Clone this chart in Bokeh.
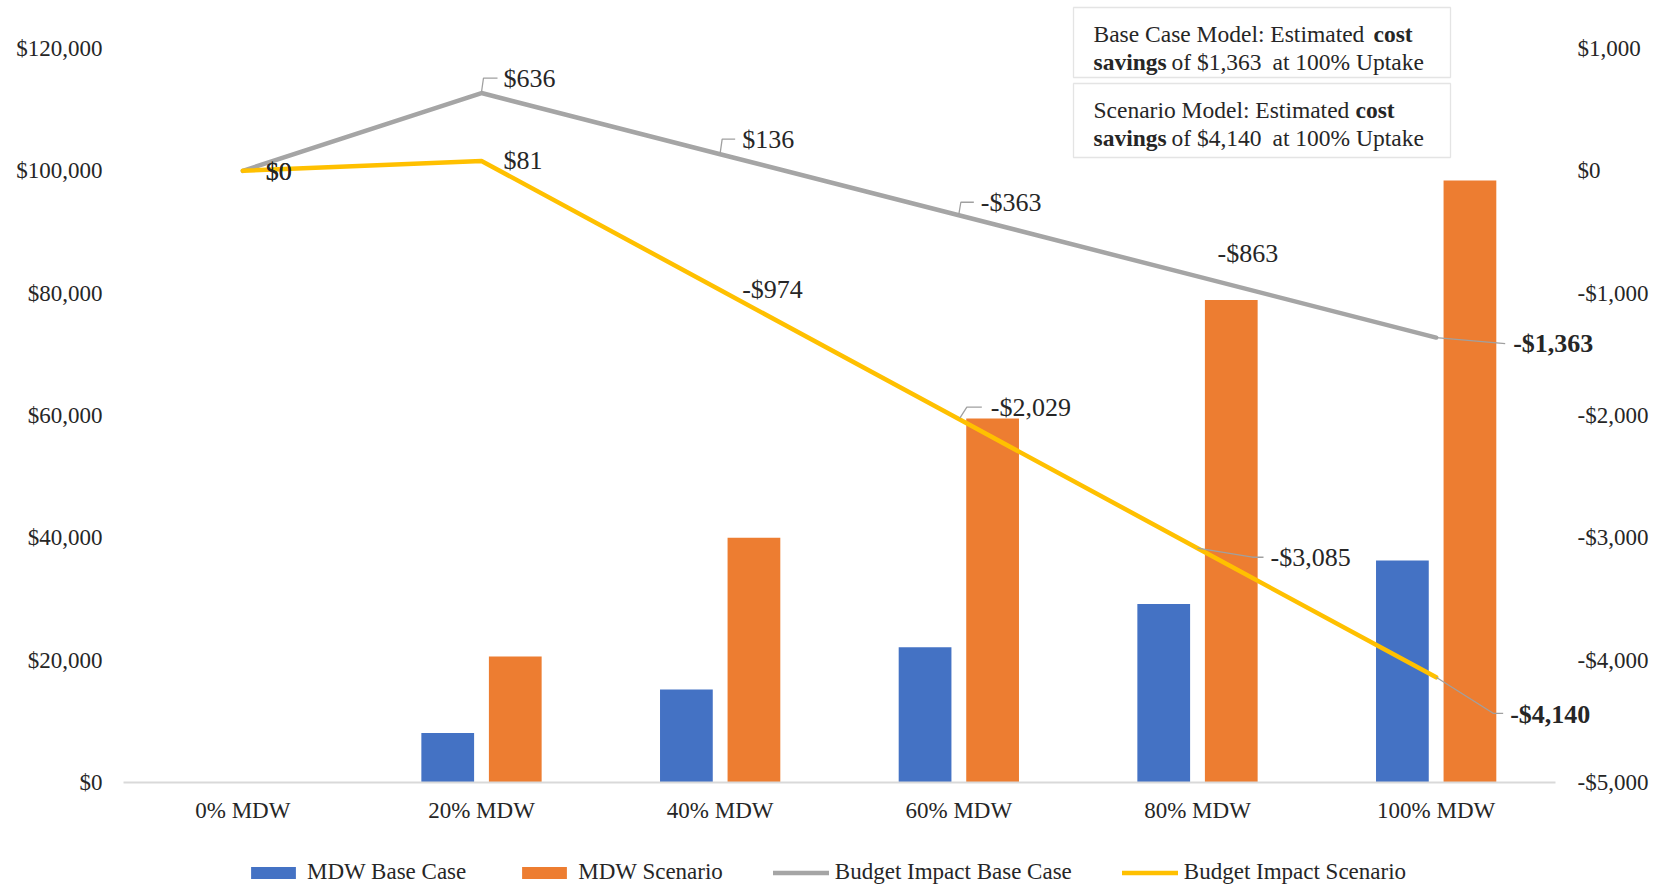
from bokeh.plotting import figure
from bokeh.models import (Range1d, LinearAxis, FixedTicker, ColumnDataSource, LabelSet,
                          Label, BoxAnnotation, Legend, LegendItem)
from bokeh.core.properties import value
from bokeh.embed import file_html
from bokeh.resources import INLINE

# ---- data -------------------------------------------------------------
categories = ["0% MDW", "20% MDW", "40% MDW", "60% MDW", "80% MDW", "100% MDW"]
mdw_base_case = [0, 8100, 15200, 22100, 29200, 36300]
mdw_scenario = [0, 20600, 40000, 59500, 78900, 98400]
budget_impact_base_case = [0, 636, 136, -363, -863, -1363]
budget_impact_scenario = [0, 81, -974, -2029, -3085, -4140]
left_ticks = [0, 20000, 40000, 60000, 80000, 100000, 120000]
right_ticks = [-5000, -4000, -3000, -2000, -1000, 0, 1000]

# ---- layout -----------------------------------------------------------
# The frame fills the whole canvas; the plotting area sits inside it and
# the axes are pinned to its edges with fixed_location, so that labels,
# callouts and the legend outside the plotting area are never clipped.
FONT = "Liberation Serif"
W, H = 1663, 887
PLOT_L, PLOT_R, PLOT_T, PLOT_B = 123, 1555, 48, 782
N = len(categories)
Y_MAX = left_ticks[-1]
R_MIN, R_MAX = right_ticks[0], right_ticks[-1]

BLUE, ORANGE, GREY, GOLD = "#4472C4", "#ED7D31", "#A5A5A5", "#FFC000"
TEXT = "#262626"
LEADER = "#A0A0A0"

PX_X = (PLOT_R - PLOT_L) / N               # pixels per category
PX_Y = (PLOT_B - PLOT_T) / Y_MAX           # pixels per dollar, left axis
PX_R = (PLOT_B - PLOT_T) / (R_MAX - R_MIN)  # pixels per dollar, right axis


def money(v):
    return ("-" if v < 0 else "") + "${:,}".format(abs(v))


def x_at(px):
    """canvas pixel column -> x data value"""
    return (px - PLOT_L) / PX_X


def y_at(py):
    """canvas pixel row -> left-axis data value"""
    return (PLOT_B - py) / PX_Y


centers = [i + 0.5 for i in range(N)]
BAR_W = 0.221
BAR_SHIFT = 0.1415

p = figure(width=W, height=H, output_backend="svg", toolbar_location=None, tools="",
           x_axis_type=None, y_axis_type=None,
           x_range=Range1d(x_at(0), x_at(W)), y_range=Range1d(y_at(H), y_at(0)),
           min_border=0)
p.extra_y_ranges = {"impact": Range1d(R_MIN - (H - PLOT_B) / PX_R, R_MAX + PLOT_T / PX_R)}
p.outline_line_color = None
p.background_fill_color = "white"
p.border_fill_color = "white"

# ---- axes -------------------------------------------------------------
xa = LinearAxis(fixed_location=0, bounds=(0, N))
xa.ticker = FixedTicker(ticks=centers)
xa.major_label_overrides = {c: lab for c, lab in zip(centers, categories)}
xa.axis_line_color = "#D9D9D9"
xa.axis_line_width = 2
xa.major_tick_line_color = None
xa.minor_tick_line_color = None
xa.major_tick_out = 0
xa.major_tick_in = 0
xa.major_label_standoff = 15
xa.major_label_text_font = FONT
xa.major_label_text_font_size = "23px"
xa.major_label_text_color = TEXT
p.add_layout(xa, "below")

ya = LinearAxis(fixed_location=0, bounds=(0, Y_MAX))
ya.ticker = FixedTicker(ticks=left_ticks)
ya.major_label_overrides = {t: money(t) for t in left_ticks}
p.add_layout(ya, "left")

yr = LinearAxis(y_range_name="impact", fixed_location=N, bounds=(R_MIN, R_MAX))
yr.ticker = FixedTicker(ticks=right_ticks)
yr.major_label_overrides = {t: money(t) for t in right_ticks}
p.add_layout(yr, "right")

for ax, standoff in ((ya, 21), (yr, 22)):
    ax.axis_line_color = None
    ax.major_tick_line_color = None
    ax.minor_tick_line_color = None
    ax.major_tick_out = 0
    ax.major_tick_in = 0
    ax.major_label_standoff = standoff
    ax.major_label_text_font = FONT
    ax.major_label_text_font_size = "23px"
    ax.major_label_text_color = TEXT

# ---- bars and lines ---------------------------------------------------
r_base_bar = p.vbar(x=[c - BAR_SHIFT for c in centers], top=mdw_base_case, width=BAR_W,
                    fill_color=BLUE, line_color=None)
r_scen_bar = p.vbar(x=[c + BAR_SHIFT for c in centers], top=mdw_scenario, width=BAR_W,
                    fill_color=ORANGE, line_color=None)
r_base_line = p.line(x=centers, y=budget_impact_base_case, y_range_name="impact",
                     line_color=GREY, line_width=4.5, line_join="round", line_cap="round")
r_scen_line = p.line(x=centers, y=budget_impact_scenario, y_range_name="impact",
                     line_color=GOLD, line_width=4.5, line_join="round", line_cap="round")

# ---- data labels with callout leaders ---------------------------------
# per point: label offset (px right, px up) and optional leader path in px
base_place = [
    ((23, -1), None),
    ((22, 15), [(0, 1), (2, 15), (16, 15)]),
    ((22, 15), [(0, 1), (2, 15), (15, 15)]),
    ((22, 13), [(0, 1), (2, 13), (15, 13)]),
    ((20, 23), None),
    ((77, -6), [(0, 0), (69, -6)]),
]
scen_place = [
    ((23, -1), None),
    ((22, 0), None),
    ((22, 0), None),
    ((32, 12), [(1, 1), (8, 12), (23, 12)]),
    ((73, -9), [(0, 0), (55, -9), (66, -9)]),
    ((74, -37), [(0, 0), (57, -36), (67, -36)]),
]

leader_xs, leader_ys = [], []
for series, place in ((budget_impact_base_case, base_place),
                      (budget_impact_scenario, scen_place)):
    normal = dict(x=[], y=[], text=[], dx=[], dy=[])
    bold = dict(x=[], y=[], text=[], dx=[], dy=[])
    for i, (v, ((ox, oy), path)) in enumerate(zip(series, place)):
        target = bold if i == N - 1 else normal
        target["x"].append(centers[i])
        target["y"].append(v)
        target["text"].append(money(v))
        target["dx"].append(ox)
        target["dy"].append(oy)
        if path:
            leader_xs.append([centers[i] + px / PX_X for px, _ in path])
            leader_ys.append([v + py / PX_R for _, py in path])
    for src, style in ((normal, "normal"), (bold, "bold")):
        p.add_layout(LabelSet(x="x", y="y", text="text", x_offset="dx", y_offset="dy",
                              y_range_name="impact", source=ColumnDataSource(src),
                              text_font=value(FONT), text_font_size="26px",
                              text_font_style=style, text_color=TEXT,
                              text_align="left", text_baseline="middle"))

p.multi_line(xs=leader_xs, ys=leader_ys, y_range_name="impact",
             line_color=LEADER, line_width=1.3)


# ---- summary boxes ----------------------------------------------------
def add_box(top, bottom, title, cost_x, saving):
    p.add_layout(BoxAnnotation(left=x_at(1073), right=x_at(1450), top=y_at(top),
                               bottom=y_at(bottom), fill_color="white", fill_alpha=1,
                               line_color="#A6A6A6", line_width=1.3))
    l1 = top + 26.5
    l2 = l1 + 28
    pieces = [
        (1093, l1, title, "normal"),
        (cost_x, l1, "cost", "bold"),
        (1093, l2, "savings", "bold"),
        (1171, l2, "of " + money(abs(saving)), "normal"),
        (1272, l2, "at 100% Uptake", "normal"),
    ]
    for px, py, txt, style in pieces:
        p.add_layout(Label(x=x_at(px), y=y_at(py), text=txt, text_font=FONT,
                           text_font_size="23.5px", text_font_style=style,
                           text_color=TEXT, text_align="left", text_baseline="middle"))


add_box(7, 77, "Base Case Model: Estimated", 1373, budget_impact_base_case[-1])
add_box(83, 157, "Scenario Model: Estimated", 1355, budget_impact_scenario[-1])

# ---- legend -----------------------------------------------------------
legend = Legend(items=[
    LegendItem(label="MDW Base Case", renderers=[r_base_bar]),
    LegendItem(label="MDW Scenario", renderers=[r_scen_bar]),
    LegendItem(label="Budget Impact Base Case", renderers=[r_base_line]),
    LegendItem(label="Budget Impact Scenario", renderers=[r_scen_line]),
], orientation="horizontal", location=(245, 2),
    glyph_width=56, glyph_height=15, label_standoff=6, spacing=50,
    padding=0, margin=0, border_line_color=None, background_fill_alpha=0,
    label_text_font=FONT, label_text_font_size="23px", label_text_color=TEXT)
p.add_layout(legend)

open("out.html", "w").write(file_html(p, INLINE))
